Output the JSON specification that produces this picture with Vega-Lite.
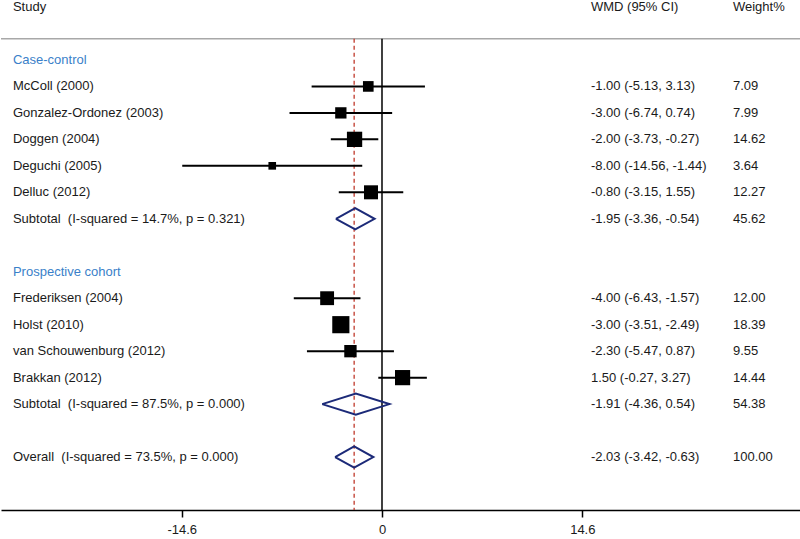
{
  "$schema": "https://vega.github.io/schema/vega-lite/v6.json",
  "width": 800,
  "height": 510,
  "padding": 0,
  "autosize": {"type": "pad"},
  "background": "white",
  "config": {
    "view": {"stroke": null},
    "font": "Liberation Sans",
    "axisX": {
      "domainColor": "#000000",
      "domainWidth": 1.5,
      "tickColor": "#000000",
      "tickWidth": 1.5,
      "tickSize": 7,
      "labelFontSize": 13,
      "labelColor": "#1a1a1a",
      "labelPadding": 6,
      "grid": false
    }
  },
  "datasets": {
    "rows": [
      {"label": "Study", "type": "header", "row": -1, "ci": "WMD (95% CI)", "wt": "Weight%"},
      {"label": "Case-control", "type": "group", "row": 1, "ci": "", "wt": ""},
      {"label": "McColl (2000)", "type": "study", "row": 2, "est": -1.0, "lo": -5.13, "hi": 3.13, "weight": 7.09, "ci": "-1.00 (-5.13, 3.13)", "wt": "7.09"},
      {"label": "Gonzalez-Ordonez (2003)", "type": "study", "row": 3, "est": -3.0, "lo": -6.74, "hi": 0.74, "weight": 7.99, "ci": "-3.00 (-6.74, 0.74)", "wt": "7.99"},
      {"label": "Doggen (2004)", "type": "study", "row": 4, "est": -2.0, "lo": -3.73, "hi": -0.27, "weight": 14.62, "ci": "-2.00 (-3.73, -0.27)", "wt": "14.62"},
      {"label": "Deguchi (2005)", "type": "study", "row": 5, "est": -8.0, "lo": -14.56, "hi": -1.44, "weight": 3.64, "ci": "-8.00 (-14.56, -1.44)", "wt": "3.64"},
      {"label": "Delluc (2012)", "type": "study", "row": 6, "est": -0.8, "lo": -3.15, "hi": 1.55, "weight": 12.27, "ci": "-0.80 (-3.15, 1.55)", "wt": "12.27"},
      {"label": "Subtotal\u00a0 (I-squared = 14.7%, p = 0.321)", "type": "subtotal", "row": 7, "est": -1.95, "lo": -3.36, "hi": -0.54, "weight": 45.62, "ci": "-1.95 (-3.36, -0.54)", "wt": "45.62"},
      {"label": "Prospective cohort", "type": "group", "row": 9, "ci": "", "wt": ""},
      {"label": "Frederiksen (2004)", "type": "study", "row": 10, "est": -4.0, "lo": -6.43, "hi": -1.57, "weight": 12.0, "ci": "-4.00 (-6.43, -1.57)", "wt": "12.00"},
      {"label": "Holst (2010)", "type": "study", "row": 11, "est": -3.0, "lo": -3.51, "hi": -2.49, "weight": 18.39, "ci": "-3.00 (-3.51, -2.49)", "wt": "18.39"},
      {"label": "van Schouwenburg (2012)", "type": "study", "row": 12, "est": -2.3, "lo": -5.47, "hi": 0.87, "weight": 9.55, "ci": "-2.30 (-5.47, 0.87)", "wt": "9.55"},
      {"label": "Brakkan (2012)", "type": "study", "row": 13, "est": 1.5, "lo": -0.27, "hi": 3.27, "weight": 14.44, "ci": "1.50 (-0.27, 3.27)", "wt": "14.44"},
      {"label": "Subtotal\u00a0 (I-squared = 87.5%, p = 0.000)", "type": "subtotal", "row": 14, "est": -1.91, "lo": -4.36, "hi": 0.54, "weight": 54.38, "ci": "-1.91 (-4.36, 0.54)", "wt": "54.38"},
      {"label": "Overall\u00a0 (I-squared = 73.5%, p = 0.000)", "type": "overall", "row": 16, "est": -2.03, "lo": -3.42, "hi": -0.63, "weight": 100.0, "ci": "-2.03 (-3.42, -0.63)", "wt": "100.00"}
    ],
    "diamonds": [
      {"id": "s1", "o": 1, "x": -3.36, "row": 7},
      {"id": "s1", "o": 2, "x": -1.95, "row": 6.6},
      {"id": "s1", "o": 3, "x": -0.54, "row": 7},
      {"id": "s1", "o": 4, "x": -1.95, "row": 7.4},
      {"id": "s1", "o": 5, "x": -3.36, "row": 7},
      {"id": "s2", "o": 1, "x": -4.36, "row": 14},
      {"id": "s2", "o": 2, "x": -1.91, "row": 13.6},
      {"id": "s2", "o": 3, "x": 0.54, "row": 14},
      {"id": "s2", "o": 4, "x": -1.91, "row": 14.4},
      {"id": "s2", "o": 5, "x": -4.36, "row": 14},
      {"id": "ov", "o": 1, "x": -3.42, "row": 16},
      {"id": "ov", "o": 2, "x": -2.03, "row": 15.6},
      {"id": "ov", "o": 3, "x": -0.63, "row": 16},
      {"id": "ov", "o": 4, "x": -2.03, "row": 16.4},
      {"id": "ov", "o": 5, "x": -3.42, "row": 16}
    ]
  },
  "layer": [
    {
      "data": {"name": "rows"},
      "transform": [{"filter": "datum.type === 'header'"}],
      "mark": {"type": "rule", "color": "#a8a8a8", "strokeWidth": 1.5},
      "encoding": {
        "x": {"datum": -27.77, "type": "quantitative", "scale": {"domain": [-27.77, 30.54], "nice": false, "zero": false}, "axis": {"values": [-14.6, 0, 14.6], "labelExpr": "'' + datum.value", "title": null}},
        "x2": {"datum": 30.54},
        "y": {"datum": 0.2, "type": "quantitative", "scale": {"domain": [-1.264, 18.0], "reverse": true, "nice": false, "zero": false}, "axis": null}
      }
    },
    {
      "data": {"name": "rows"},
      "transform": [{"filter": "datum.type === 'header'"}],
      "mark": {"type": "rule", "color": "#000000", "strokeWidth": 1.5},
      "encoding": {
        "x": {"datum": 0, "type": "quantitative"},
        "y": {"datum": 0.2, "type": "quantitative"},
        "y2": {"datum": 18.0}
      }
    },
    {
      "data": {"name": "rows"},
      "transform": [{"filter": "datum.type === 'overall'"}],
      "mark": {"type": "rule", "color": "#c0392b", "strokeWidth": 1.3, "strokeDash": [4, 3]},
      "encoding": {
        "x": {"field": "est", "type": "quantitative"},
        "y": {"datum": 0.2, "type": "quantitative"},
        "y2": {"datum": 18.0}
      }
    },
    {
      "data": {"name": "rows"},
      "transform": [{"filter": "datum.type === 'study'"}],
      "mark": {"type": "rule", "color": "#000000", "strokeWidth": 2},
      "encoding": {
        "x": {"field": "lo", "type": "quantitative"},
        "x2": {"field": "hi"},
        "y": {"field": "row", "type": "quantitative"}
      }
    },
    {
      "data": {"name": "rows"},
      "transform": [{"filter": "datum.type === 'study'"}],
      "mark": {"type": "point", "shape": "square", "filled": true, "color": "#000000", "opacity": 1},
      "encoding": {
        "x": {"field": "est", "type": "quantitative"},
        "y": {"field": "row", "type": "quantitative"},
        "size": {"field": "weight", "type": "quantitative", "scale": {"type": "linear", "domain": [0, 20], "range": [0, 320], "zero": true}, "legend": null}
      }
    },
    {
      "data": {"name": "diamonds"},
      "mark": {"type": "line", "color": "#1c2a78", "strokeWidth": 2},
      "encoding": {
        "x": {"field": "x", "type": "quantitative"},
        "y": {"field": "row", "type": "quantitative"},
        "detail": {"field": "id"},
        "order": {"field": "o", "type": "quantitative"}
      }
    },
    {
      "data": {"name": "rows"},
      "mark": {"type": "text", "align": "left", "baseline": "middle", "fontSize": 13},
      "encoding": {
        "x": {"datum": -26.9, "type": "quantitative"},
        "y": {"field": "row", "type": "quantitative"},
        "text": {"field": "label"},
        "color": {"field": "type", "type": "nominal", "scale": {"domain": ["header", "group", "study", "subtotal", "overall"], "range": ["#1a1a1a", "#3a7fc9", "#1a1a1a", "#1a1a1a", "#1a1a1a"]}, "legend": null}
      }
    },
    {
      "data": {"name": "rows"},
      "mark": {"type": "text", "align": "left", "baseline": "middle", "fontSize": 13, "color": "#1a1a1a"},
      "encoding": {
        "x": {"datum": 15.23, "type": "quantitative"},
        "y": {"field": "row", "type": "quantitative"},
        "text": {"field": "ci"}
      }
    },
    {
      "data": {"name": "rows"},
      "mark": {"type": "text", "align": "left", "baseline": "middle", "fontSize": 13, "color": "#1a1a1a"},
      "encoding": {
        "x": {"datum": 25.58, "type": "quantitative"},
        "y": {"field": "row", "type": "quantitative"},
        "text": {"field": "wt"}
      }
    }
  ]
}
